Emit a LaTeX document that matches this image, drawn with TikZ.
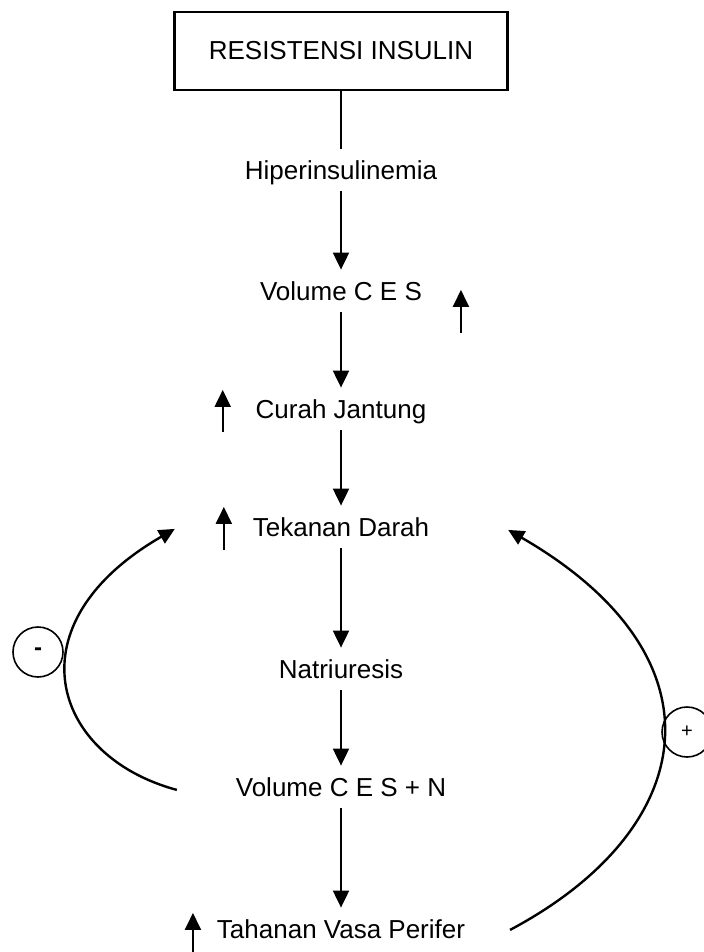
\documentclass[tikz,border=0pt]{standalone}
\usepackage{fontspec}
\setmainfont{Liberation Sans}
\usetikzlibrary{arrows.meta,positioning}

\begin{document}
\begin{tikzpicture}[
  x=0.5pt, y=-0.5pt,
  box/.style={draw, line width=1.1pt, minimum width=166.5pt, minimum height=39pt,
              inner sep=0pt, outer sep=0pt, font=\fontsize{13}{15}\selectfont},
  lbl/.style={inner sep=0pt, outer sep=0pt, text height=9.3pt, text depth=0pt,
              font=\fontsize{13}{15}\selectfont},
  link/.style={line width=1pt, shorten <=6pt, shorten >=6pt},
  arrow/.style={link, -{Triangle[length=8.5pt, width=8pt]}},
  rise/.style={line width=1pt, -{Triangle[length=8.5pt, width=8pt]}},
  feedback/.style={line width=1.2pt, -{Triangle[length=8pt, width=7.5pt]}},
  sign/.style={draw, circle, line width=0.8pt, minimum size=25pt, inner sep=0pt}
]
\useasboundingbox (0,0) rectangle (704,952);
\node[box] (resist) at (341,51) {RESISTENSI INSULIN};
\node[lbl, below=35.3pt of resist] (hiper) {Hiperinsulinemia};
\node[lbl, below=51.2pt of hiper] (vces) {Volume C E S};
\node[lbl, below=49.7pt of vces] (curah) {Curah Jantung};
\node[lbl, below=49.7pt of curah] (tekanan) {Tekanan Darah};
\node[lbl, below=61.7pt of tekanan] (natri) {Natriuresis};
\node[lbl, below=49.7pt of natri] (vcesn) {Volume C E S + N};
\node[lbl, below=61.7pt of vcesn] (tahanan) {Tahanan Vasa Perifer};
\node[sign, font=\fontsize{12}{14}\selectfont\bfseries] (minus) at (38,652) {-};
\node[sign, font=\fontsize{10}{12}\selectfont] (plus) at (687,732) {+};
\draw[link, shorten <=0pt] (resist) -- (hiper);
\draw[arrow] (hiper) -- (vces);
\draw[arrow] (vces) -- (curah);
\draw[arrow] (curah) -- (tekanan);
\draw[arrow] (tekanan) -- (natri);
\draw[arrow] (natri) -- (vcesn);
\draw[arrow] (vcesn) -- (tahanan);
\draw[rise] (vces.east) ++(39,42) -- ++(0,-43);
\draw[rise] (curah.west) ++(-33,23) -- ++(0,-42);
\draw[rise] (tekanan.west) ++(-29,23) -- ++(0,-43);
\draw[rise] (tahanan.west) ++(-24,26) -- ++(0,-42);
\path (vcesn.west) ++(-59,3) coordinate (lbot);
\path (tekanan.west) ++(-78,2) coordinate (ltop);
\path (tahanan.east) ++(45,1) coordinate (rbot);
\path (tekanan.east) ++(79,3) coordinate (rtop);
\draw[feedback] (lbot) to[out=165, in=210, out distance=65pt, in distance=95pt] (ltop);
\draw[feedback] (rbot) to[out=28, in=-30, out distance=107.5pt, in distance=127.5pt] (rtop);
\end{tikzpicture}
\end{document}
